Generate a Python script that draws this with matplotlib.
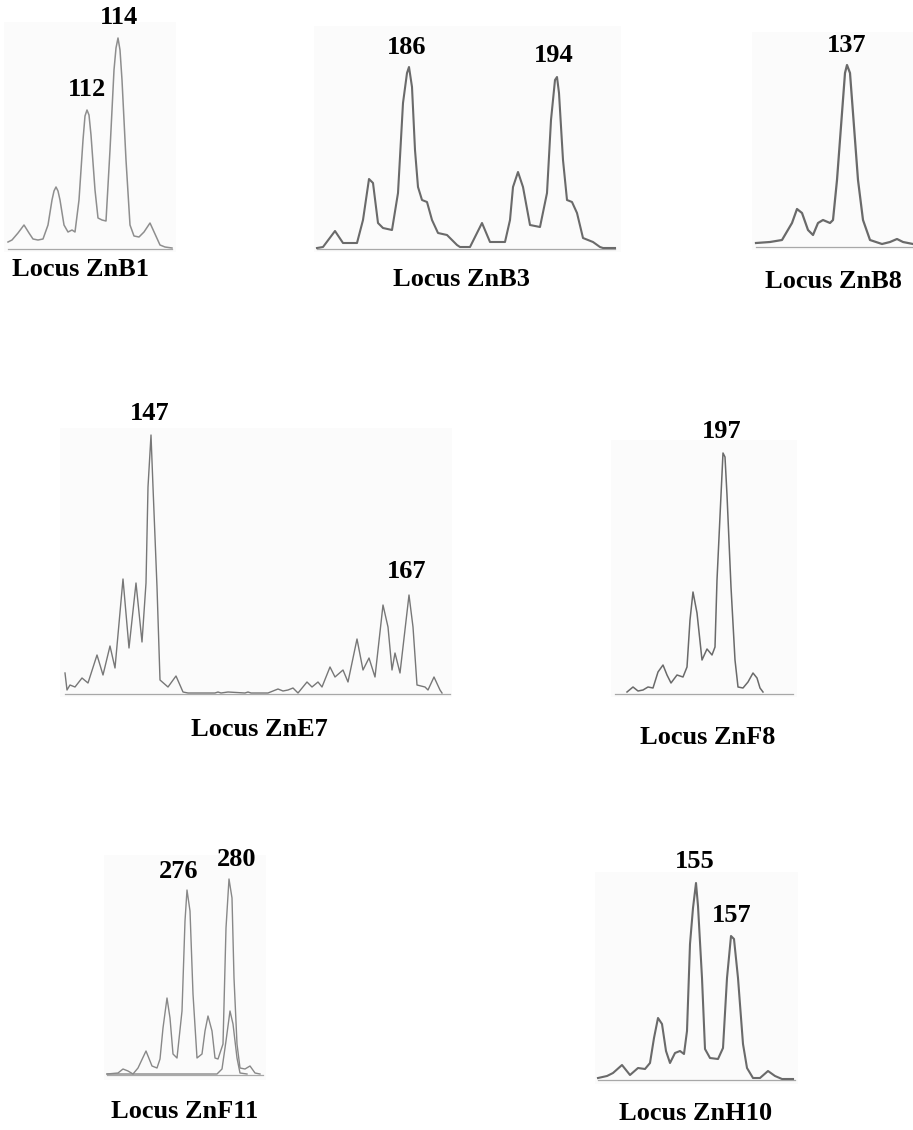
import matplotlib
matplotlib.use("Agg")
import matplotlib.pyplot as plt
from matplotlib.patches import Rectangle

W, H = 913, 1130
DPI = 100

# ---------------- data (trace position, signal height) ----------------
znb1_x = [0, 4, 10, 16, 21, 25, 30, 35, 40, 44, 46, 48, 50, 52, 56, 60, 64, 67, 71, 75,
          77, 79, 81, 83, 87, 90, 94, 98, 102, 106, 108, 110, 112, 114, 118, 122, 126, 131,
          136, 142, 147, 152, 157, 164]
znb1_y = [6, 8, 15, 23, 15, 9, 8, 9, 23, 48, 57, 61, 57, 48, 23, 16, 18, 16, 48, 108,
          132, 138, 133, 113, 58, 30, 28, 27, 98, 178, 200, 210, 198, 168, 88, 23, 12, 11,
          16, 25, 14, 3, 1, 0]

znb3_x = [0, 6, 18, 26, 40, 46, 52, 56, 61, 66, 75, 81, 86, 90, 92, 95, 98, 101, 105, 110,
          115, 121, 130, 140, 143, 153, 165, 173, 188, 193, 196, 201, 206, 213, 223, 230,
          234, 238, 240, 242, 246, 250, 255, 260, 266, 276, 283, 286, 298]
znb3_y = [0, 1, 17, 5, 5, 28, 69, 65, 25, 20, 18, 55, 145, 175, 181, 161, 98, 61, 48, 46,
          28, 15, 13, 3, 1, 1, 25, 6, 6, 28, 61, 76, 61, 23, 21, 55,
          128, 168, 171, 155, 88, 48, 46, 35, 10, 6, 1, 0, 0]

znb8_x = [0, 14, 26, 36, 41, 46, 52, 57, 62, 67, 74, 77, 81, 86, 89, 91, 94, 97, 102, 107,
          114, 126, 134, 141, 147, 157]
znb8_y = [3, 4, 6, 23, 37, 33, 16, 11, 23, 26, 23, 26, 66, 133, 173, 181, 173, 133, 66, 26,
          6, 2, 4, 7, 4, 2]

zne7_x = [0, 2, 5, 10, 17, 23, 32, 38, 45, 50, 58, 64, 71, 77, 81, 83, 86, 88, 92, 95,
          103, 111, 118, 123, 150, 153, 156, 163, 180, 183, 186, 203, 213, 218, 223, 228, 233,
          242, 247, 253, 257, 265, 270, 278, 283, 292, 298, 304, 310, 318, 323, 327, 330, 335,
          344, 348, 352, 360, 363, 369, 375, 377]
zne7_y = [20, 3, 8, 6, 15, 10, 38, 18, 47, 25, 114, 45, 110, 51, 110, 206, 258, 206, 106, 13,
          6, 17, 1, 0, 0, 1, 0, 1, 0, 1, 0, 0, 4, 2, 3, 5, 0,
          11, 6, 11, 6, 26, 16, 23, 11, 54, 23, 35, 16, 88, 66, 23, 40, 20,
          98, 66, 8, 6, 3, 16, 3, 0]

znf8_x = [12, 18, 23, 28, 33, 38, 43, 48, 52, 56, 62, 68, 72, 75, 78, 82, 87, 92, 97, 100,
          102, 106, 108, 110, 112, 116, 120, 123, 128, 133, 138, 142, 145, 148]
znf8_y = [1, 6, 2, 3, 6, 5, 21, 28, 18, 10, 18, 16, 26, 73, 101, 80, 33, 44, 38, 46,
          113, 198, 240, 236, 198, 106, 33, 6, 5, 11, 20, 15, 5, 1]

znf11_x = [0, 11, 16, 21, 26, 31, 39, 45, 50, 53, 56, 60, 63, 66, 70, 75, 78, 80, 83, 86,
           90, 95, 98, 101, 105, 108, 111, 116, 119, 122, 125, 127, 130, 133, 138, 143, 148, 153]
znf11_y = [0, 1, 5, 3, 0, 6, 23, 8, 6, 15, 46, 76, 56, 20, 16, 63, 153, 184, 163, 80,
           16, 20, 43, 58, 43, 16, 15, 30, 146, 195, 176, 96, 30, 6, 5, 8, 1, 0]
znf11b_x = [0, 110, 115, 119, 123, 126, 130, 133, 140]
znf11b_y = [0, 0, 5, 33, 63, 50, 16, 1, 0]

znh10_x = [0, 9, 15, 24, 32, 40, 47, 52, 56, 60, 64, 68, 72, 77, 82, 86, 89, 92, 95, 98,
           100, 104, 107, 112, 120, 125, 129, 133, 136, 140, 145, 149, 155, 162, 170, 177, 184, 195]
znh10_y = [1, 3, 6, 14, 4, 11, 10, 16, 41, 61, 55, 28, 16, 26, 28, 25, 48, 135, 171, 196,
           173, 101, 30, 21, 20, 31, 101, 143, 140, 101, 35, 11, 1, 1, 8, 3, 0, 0]

locus_names = ["Locus ZnB1", "Locus ZnB3", "Locus ZnB8", "Locus ZnE7",
               "Locus ZnF8", "Locus ZnF11", "Locus ZnH10"]
allele_labels = [["112", "114"], ["186", "194"], ["137"], ["147", "167"],
                 ["197"], ["276", "280"], ["155", "157"]]

# ---------------- layout (pixels) ----------------
panels = [
    dict(x0=8,   base=248,  width=164, color="#8e8e8e", lw=1.1, xs=[znb1_x], ys=[znb1_y],
         bg=(4, 176, 22, 252), title=(80, 270),
         labs=[(87, 89), (119, 17)]),
    dict(x0=317, base=248,  width=298, color="#6a6a6a", lw=1.5, xs=[znb3_x], ys=[znb3_y],
         bg=(314, 621, 26, 252), title=(461, 280),
         labs=[(407, 47), (554, 56)]),
    dict(x0=756, base=246,  width=157, color="#6a6a6a", lw=1.6, xs=[znb8_x], ys=[znb8_y],
         bg=(752, 913, 32, 250), title=(833, 281),
         labs=[(847, 46)]),
    dict(x0=65,  base=693,  width=385, color="#777777", lw=1.0, xs=[zne7_x], ys=[zne7_y],
         bg=(60, 452, 428, 697), title=(259, 729),
         labs=[(150, 413), (407, 572)]),
    dict(x0=615, base=693,  width=178, color="#6a6a6a", lw=1.1, xs=[znf8_x], ys=[znf8_y],
         bg=(611, 797, 440, 697), title=(708, 738),
         labs=[(722, 432)]),
    dict(x0=107, base=1074, width=156, color="#888888", lw=1.0, xs=[znf11_x, znf11b_x],
         ys=[znf11_y, znf11b_y],
         bg=(104, 266, 855, 1080), title=(185, 1111),
         labs=[(179, 871), (237, 859)]),
    dict(x0=598, base=1079, width=197, color="#6a6a6a", lw=1.5, xs=[znh10_x], ys=[znh10_y],
         bg=(595, 798, 872, 1084), title=(696, 1114),
         labs=[(695, 862), (732, 916)]),
]

YR = 270  # vertical extent of each trace axes, in pixels

fig = plt.figure(figsize=(W / DPI, H / DPI), dpi=DPI)
fig.patch.set_facecolor("white")

serif = ["Liberation Serif", "DejaVu Serif"]

for p, name, labs in zip(panels, locus_names, allele_labels):
    bx0, bx1, by0, by1 = p["bg"]
    fig.add_artist(Rectangle((bx0 / W, 1 - by1 / H), (bx1 - bx0) / W, (by1 - by0) / H,
                             transform=fig.transFigure, facecolor="#fbfbfb",
                             edgecolor="none", zorder=0))
    ax = fig.add_axes([p["x0"] / W, 1 - p["base"] / H, p["width"] / W, YR / H])
    ax.set_xlim(0, p["width"])
    ax.set_ylim(0, YR)
    ax.axis("off")
    ax.patch.set_alpha(0)
    ax.axhline(-1.0, color="#a8a8a8", lw=0.9, clip_on=False)
    for xx, yy in zip(p["xs"], p["ys"]):
        ax.plot(xx, yy, color=p["color"], lw=p["lw"], solid_joinstyle="round",
                clip_on=False)
    tx, ty = p["title"]
    fig.text(tx / W, 1 - ty / H, name, ha="center", va="center", fontsize=19,
             fontweight="bold", family=serif)
    for s, (lx, ly) in zip(labs, p["labs"]):
        fig.text(lx / W, 1 - ly / H, s, ha="center", va="center", fontsize=19,
                 fontweight="bold", family=serif)

fig.savefig("out.png", dpi=DPI)
